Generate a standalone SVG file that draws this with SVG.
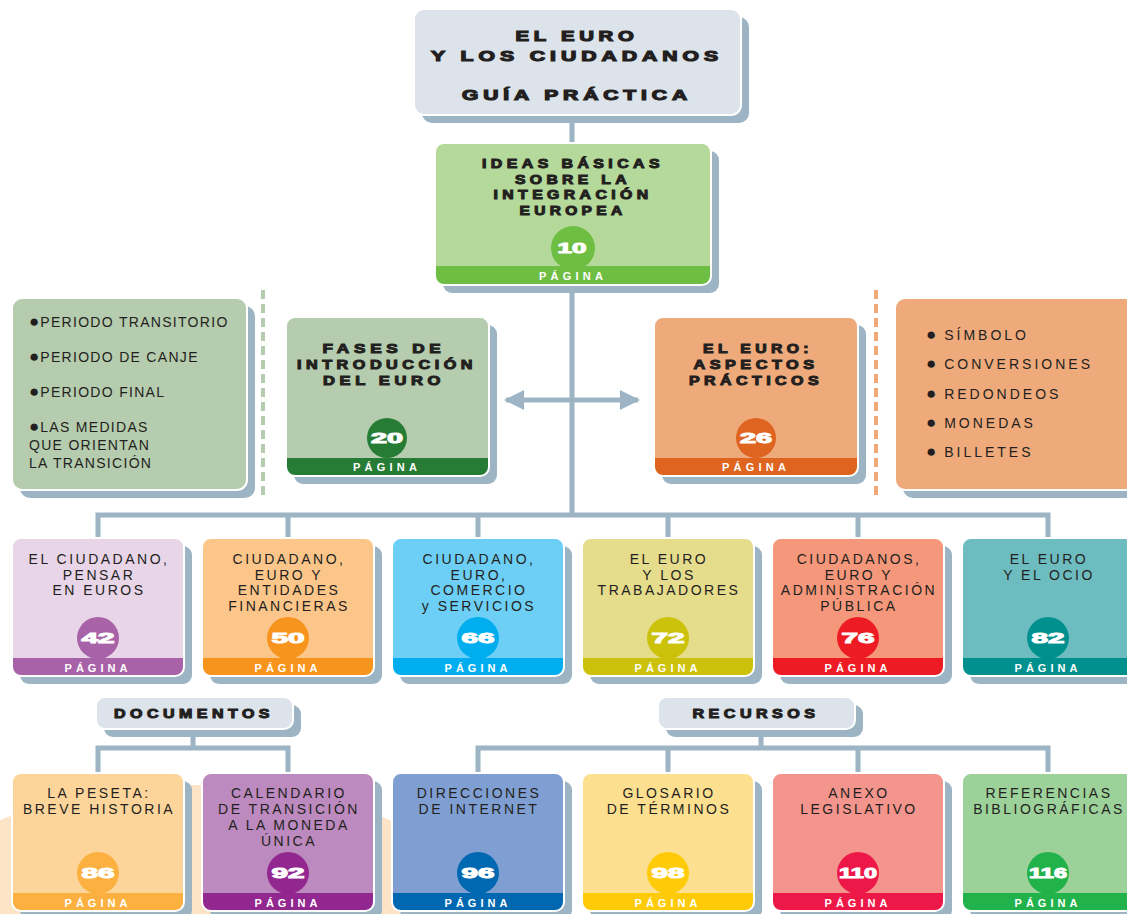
<svg xmlns="http://www.w3.org/2000/svg" width="1127" height="914" viewBox="0 0 1127 914">
<defs>
<style>
.sh{fill:#9cb4c3}
.bd{fill:none;stroke:#fff;stroke-width:2}
.conn{stroke:#9cb4c3;stroke-width:5;fill:none}
.hd{font-family:"Liberation Sans",Arial,sans-serif;font-weight:bold;font-size:12.5px;letter-spacing:3.5px;fill:#231f20;stroke:#231f20;stroke-width:1;text-anchor:middle}
.tt{font-family:"Liberation Sans",Arial,sans-serif;font-weight:bold;font-size:15px;letter-spacing:3.5px;fill:#231f20;stroke:#231f20;stroke-width:1.2;text-anchor:middle}
.tx{font-family:"Liberation Sans",Arial,sans-serif;font-size:14px;fill:#231f20;letter-spacing:2.5px;text-anchor:middle}
.ls{font-family:"Liberation Sans",Arial,sans-serif;font-size:14px;fill:#231f20;letter-spacing:1.3px}
.rs{font-family:"Liberation Sans",Arial,sans-serif;font-size:14px;fill:#231f20;letter-spacing:3px}
.bl{font-size:17px;letter-spacing:1px}
.pg{font-family:"Liberation Sans",Arial,sans-serif;font-weight:bold;font-size:11px;fill:#fff;text-anchor:middle}
.num{font-family:"Liberation Sans",Arial,sans-serif;font-weight:bold;font-size:15px;fill:#fff;stroke:#fff;stroke-width:1;text-anchor:middle}
</style>
<marker id="ah" viewBox="0 0 10 10" refX="9" refY="5" markerWidth="4" markerHeight="4" orient="auto-start-reverse" markerUnits="strokeWidth">
<path d="M0,0 L10,5 L0,10 Z" fill="#9cb4c3"/>
</marker>
</defs>
<rect x="0" y="0" width="1127" height="914" fill="#fff"/>
<ellipse cx="195" cy="910" rx="280" ry="125" fill="#fde4c6"/>

<g id="connectors">
<path class="conn" d="M572,115 V515"/>
<path class="conn" d="M98,538 V515 H1048 V538"/>
<path class="conn" d="M288,515 V538 M478,515 V538 M668,515 V538 M858,515 V538"/>
<path class="conn" d="M193,729 V748 M98,773 V748 H288 V773"/>
<path class="conn" d="M761,729 V748 M478,773 V748 H1048 V773 M668,748 V773 M858,748 V773"/>
<path class="conn" d="M506,400 H638" marker-start="url(#ah)" marker-end="url(#ah)"/>
<path d="M263,290 V495" stroke="#b6ccae" stroke-width="4" stroke-dasharray="9 5" fill="none"/>
<path d="M876,290 V495" stroke="#f0a878" stroke-width="4" stroke-dasharray="9 5" fill="none"/>
</g>

<g id="title">
<rect class="sh" x="422" y="17" width="327" height="106" rx="10"/>
<rect x="414" y="9" width="327" height="106" rx="10" fill="#dce3ea"/>
<rect class="bd" x="414" y="9" width="327" height="106" rx="10"/>
<text class="tt" x="577" y="41" textLength="123" lengthAdjust="spacingAndGlyphs">EL EURO</text>
<text class="tt" x="577" y="61" textLength="292" lengthAdjust="spacingAndGlyphs">Y LOS CIUDADANOS</text>
<text class="tt" x="577" y="100" textLength="230" lengthAdjust="spacingAndGlyphs">GUÍA PRÁCTICA</text>
</g>

<g id="ideas">
<rect class="sh" x="443" y="151" width="276" height="142" rx="9"/>
<rect x="435" y="143" width="276" height="142" rx="9" fill="#6fbe44"/>
<path d="M435,266 V152 Q435,143 444,143 H702 Q711,143 711,152 V266 Z" fill="#b5d99a"/>
<circle cx="573" cy="248" r="22" fill="#6fbe44"/>
<rect class="bd" x="435" y="143" width="276" height="142" rx="9"/>
<text class="hd" x="573" y="168" textLength="182" lengthAdjust="spacingAndGlyphs">IDEAS BÁSICAS</text>
<text class="hd" x="573" y="183.5" textLength="116" lengthAdjust="spacingAndGlyphs">SOBRE LA</text>
<text class="hd" x="573" y="199" textLength="159" lengthAdjust="spacingAndGlyphs">INTEGRACIÓN</text>
<text class="hd" x="573" y="214.5" textLength="107" lengthAdjust="spacingAndGlyphs">EUROPEA</text>
<text class="num" x="572" y="253" textLength="29" lengthAdjust="spacingAndGlyphs">10</text>
<text class="pg" x="571" y="280" textLength="64">PÁGINA</text>
</g>

<g id="fases-list">
<rect class="sh" x="20" y="306" width="235" height="192" rx="10"/>
<rect x="12" y="298" width="235" height="192" rx="10" fill="#b6ccae"/>
<rect class="bd" x="12" y="298" width="235" height="192" rx="10"/>
<text class="ls" x="29" y="327"><tspan class="bl">●</tspan>PERIODO TRANSITORIO</text>
<text class="ls" x="29" y="362"><tspan class="bl">●</tspan>PERIODO DE CANJE</text>
<text class="ls" x="29" y="397"><tspan class="bl">●</tspan>PERIODO FINAL</text>
<text class="ls" x="29" y="432"><tspan class="bl">●</tspan>LAS MEDIDAS</text>
<text class="ls" x="29" y="450">QUE ORIENTAN</text>
<text class="ls" x="29" y="468">LA TRANSICIÓN</text>
</g>

<g id="fases">
<rect class="sh" x="294" y="325" width="203" height="159" rx="9"/>
<rect x="286" y="317" width="203" height="159" rx="9" fill="#267c35"/>
<path d="M286,458 V326 Q286,317 295,317 H480 Q489,317 489,326 V458 Z" fill="#b6ccae"/>
<circle cx="387" cy="438" r="20" fill="#267c35"/>
<rect class="bd" x="286" y="317" width="203" height="159" rx="9"/>
<text class="hd" x="384" y="353" textLength="123" lengthAdjust="spacingAndGlyphs">FASES DE</text>
<text class="hd" x="387" y="369" textLength="180" lengthAdjust="spacingAndGlyphs">INTRODUCCIÓN</text>
<text class="hd" x="384" y="385" textLength="122" lengthAdjust="spacingAndGlyphs">DEL EURO</text>
<text class="num" x="387" y="443" textLength="32" lengthAdjust="spacingAndGlyphs">20</text>
<text class="pg" x="385" y="471" textLength="64">PÁGINA</text>
</g>

<g id="aspectos">
<rect class="sh" x="662" y="325" width="204" height="159" rx="9"/>
<rect x="654" y="317" width="204" height="159" rx="9" fill="#de6420"/>
<path d="M654,458 V326 Q654,317 663,317 H849 Q858,317 858,326 V458 Z" fill="#eeaa7b"/>
<circle cx="756" cy="438" r="20" fill="#de6420"/>
<rect class="bd" x="654" y="317" width="204" height="159" rx="9"/>
<text class="hd" x="758" y="353" textLength="110" lengthAdjust="spacingAndGlyphs">EL EURO:</text>
<text class="hd" x="756" y="369" textLength="125" lengthAdjust="spacingAndGlyphs">ASPECTOS</text>
<text class="hd" x="756" y="385" textLength="134" lengthAdjust="spacingAndGlyphs">PRÁCTICOS</text>
<text class="num" x="756" y="443" textLength="32" lengthAdjust="spacingAndGlyphs">26</text>
<text class="pg" x="754" y="471" textLength="64">PÁGINA</text>
</g>

<g id="aspectos-list">
<rect class="sh" x="903" y="306" width="250" height="192" rx="10"/>
<rect x="895" y="298" width="250" height="192" rx="10" fill="#eeaa7b"/>
<rect class="bd" x="895" y="298" width="250" height="192" rx="10"/>
<text class="rs" x="926" y="340"><tspan class="bl">●</tspan> SÍMBOLO</text>
<text class="rs" x="926" y="369"><tspan class="bl">●</tspan> CONVERSIONES</text>
<text class="rs" x="926" y="399"><tspan class="bl">●</tspan> REDONDEOS</text>
<text class="rs" x="926" y="428"><tspan class="bl">●</tspan> MONEDAS</text>
<text class="rs" x="926" y="457"><tspan class="bl">●</tspan> BILLETES</text>
</g>

<!-- Row 1 -->
<g id="p42">
<rect class="sh" x="20" y="546" width="172" height="138" rx="9"/>
<rect x="12" y="538" width="172" height="138" rx="9" fill="#a862a8"/>
<path d="M12,658 V547 Q12,538 21,538 H175 Q184,538 184,547 V658 Z" fill="#e8d5e8"/>
<circle cx="98" cy="638" r="21" fill="#a862a8"/>
<rect class="bd" x="12" y="538" width="172" height="138" rx="9"/>
<text class="tx" x="99" y="564">EL CIUDADANO,</text>
<text class="tx" x="99" y="579.5">PENSAR</text>
<text class="tx" x="99" y="595">EN EUROS</text>
<text class="num" x="98" y="643" textLength="33" lengthAdjust="spacingAndGlyphs">42</text>
<text class="pg" x="96" y="672" textLength="63">PÁGINA</text>
</g>

<g id="p50">
<rect class="sh" x="210" y="546" width="172" height="138" rx="9"/>
<rect x="202" y="538" width="172" height="138" rx="9" fill="#f7941d"/>
<path d="M202,658 V547 Q202,538 211,538 H365 Q374,538 374,547 V658 Z" fill="#fcc68a"/>
<circle cx="288" cy="638" r="21" fill="#f7941d"/>
<rect class="bd" x="202" y="538" width="172" height="138" rx="9"/>
<text class="tx" x="289" y="564">CIUDADANO,</text>
<text class="tx" x="289" y="579.5">EURO Y</text>
<text class="tx" x="289" y="595">ENTIDADES</text>
<text class="tx" x="289" y="610.5">FINANCIERAS</text>
<text class="num" x="288" y="643" textLength="33" lengthAdjust="spacingAndGlyphs">50</text>
<text class="pg" x="286" y="672" textLength="63">PÁGINA</text>
</g>

<g id="p66">
<rect class="sh" x="400" y="546" width="172" height="138" rx="9"/>
<rect x="392" y="538" width="172" height="138" rx="9" fill="#00aeef"/>
<path d="M392,658 V547 Q392,538 401,538 H555 Q564,538 564,547 V658 Z" fill="#6dcff6"/>
<circle cx="478" cy="638" r="21" fill="#00aeef"/>
<rect class="bd" x="392" y="538" width="172" height="138" rx="9"/>
<text class="tx" x="479" y="564">CIUDADANO,</text>
<text class="tx" x="479" y="579.5">EURO,</text>
<text class="tx" x="479" y="595">COMERCIO</text>
<text class="tx" x="479" y="610.5">y SERVICIOS</text>
<text class="num" x="478" y="643" textLength="33" lengthAdjust="spacingAndGlyphs">66</text>
<text class="pg" x="476" y="672" textLength="63">PÁGINA</text>
</g>

<g id="p72">
<rect class="sh" x="590" y="546" width="172" height="138" rx="9"/>
<rect x="582" y="538" width="172" height="138" rx="9" fill="#ccc10b"/>
<path d="M582,658 V547 Q582,538 591,538 H745 Q754,538 754,547 V658 Z" fill="#e5dc8c"/>
<circle cx="668" cy="638" r="21" fill="#ccc10b"/>
<rect class="bd" x="582" y="538" width="172" height="138" rx="9"/>
<text class="tx" x="669" y="564">EL EURO</text>
<text class="tx" x="669" y="579.5">Y LOS</text>
<text class="tx" x="669" y="595">TRABAJADORES</text>
<text class="num" x="668" y="643" textLength="33" lengthAdjust="spacingAndGlyphs">72</text>
<text class="pg" x="666" y="672" textLength="63">PÁGINA</text>
</g>

<g id="p76">
<rect class="sh" x="780" y="546" width="172" height="138" rx="9"/>
<rect x="772" y="538" width="172" height="138" rx="9" fill="#ed1c24"/>
<path d="M772,658 V547 Q772,538 781,538 H935 Q944,538 944,547 V658 Z" fill="#f5977a"/>
<circle cx="858" cy="638" r="21" fill="#ed1c24"/>
<rect class="bd" x="772" y="538" width="172" height="138" rx="9"/>
<text class="tx" x="859" y="564">CIUDADANOS,</text>
<text class="tx" x="859" y="579.5">EURO Y</text>
<text class="tx" x="859" y="595">ADMINISTRACIÓN</text>
<text class="tx" x="859" y="610.5">PÚBLICA</text>
<text class="num" x="858" y="643" textLength="33" lengthAdjust="spacingAndGlyphs">76</text>
<text class="pg" x="856" y="672" textLength="63">PÁGINA</text>
</g>

<g id="p82">
<rect class="sh" x="970" y="546" width="172" height="138" rx="9"/>
<rect x="962" y="538" width="172" height="138" rx="9" fill="#00918e"/>
<path d="M962,658 V547 Q962,538 971,538 H1125 Q1134,538 1134,547 V658 Z" fill="#6dbcc0"/>
<circle cx="1048" cy="638" r="21" fill="#00918e"/>
<rect class="bd" x="962" y="538" width="172" height="138" rx="9"/>
<text class="tx" x="1049" y="564">EL EURO</text>
<text class="tx" x="1049" y="579.5">Y EL OCIO</text>
<text class="num" x="1048" y="643" textLength="33" lengthAdjust="spacingAndGlyphs">82</text>
<text class="pg" x="1046" y="672" textLength="63">PÁGINA</text>
</g>

<g id="documentos">
<rect class="sh" x="104" y="705" width="197" height="32" rx="9"/>
<rect x="96" y="697" width="197" height="32" rx="9" fill="#dce3ea"/>
<rect class="bd" x="96" y="697" width="197" height="32" rx="9"/>
<text class="hd" x="194" y="718" textLength="160" lengthAdjust="spacingAndGlyphs">DOCUMENTOS</text>
</g>

<g id="recursos">
<rect class="sh" x="666" y="705" width="197" height="32" rx="9"/>
<rect x="658" y="697" width="197" height="32" rx="9" fill="#dce3ea"/>
<rect class="bd" x="658" y="697" width="197" height="32" rx="9"/>
<text class="hd" x="756" y="718" textLength="127" lengthAdjust="spacingAndGlyphs">RECURSOS</text>
</g>

<!-- Row 2 -->
<g id="p86">
<rect class="sh" x="20" y="781" width="172" height="138" rx="9"/>
<rect x="12" y="773" width="172" height="138" rx="9" fill="#fbb040"/>
<path d="M12,893 V782 Q12,773 21,773 H175 Q184,773 184,782 V893 Z" fill="#fdd59b"/>
<circle cx="98" cy="873" r="21" fill="#fbb040"/>
<rect class="bd" x="12" y="773" width="172" height="138" rx="9"/>
<text class="tx" x="99" y="798">LA PESETA:</text>
<text class="tx" x="99" y="814">BREVE HISTORIA</text>
<text class="num" x="98" y="878" textLength="33" lengthAdjust="spacingAndGlyphs">86</text>
<text class="pg" x="96" y="907" textLength="63">PÁGINA</text>
</g>

<g id="p92">
<rect class="sh" x="210" y="781" width="172" height="138" rx="9"/>
<rect x="202" y="773" width="172" height="138" rx="9" fill="#92278f"/>
<path d="M202,893 V782 Q202,773 211,773 H365 Q374,773 374,782 V893 Z" fill="#bc8abf"/>
<circle cx="288" cy="873" r="21" fill="#92278f"/>
<rect class="bd" x="202" y="773" width="172" height="138" rx="9"/>
<text class="tx" x="289" y="798">CALENDARIO</text>
<text class="tx" x="289" y="814">DE TRANSICIÓN</text>
<text class="tx" x="289" y="830">A LA MONEDA</text>
<text class="tx" x="289" y="846">ÚNICA</text>
<text class="num" x="288" y="878" textLength="33" lengthAdjust="spacingAndGlyphs">92</text>
<text class="pg" x="286" y="907" textLength="63">PÁGINA</text>
</g>

<g id="p96">
<rect class="sh" x="400" y="781" width="172" height="138" rx="9"/>
<rect x="392" y="773" width="172" height="138" rx="9" fill="#0067b1"/>
<path d="M392,893 V782 Q392,773 401,773 H555 Q564,773 564,782 V893 Z" fill="#7f9fd3"/>
<circle cx="478" cy="873" r="21" fill="#0067b1"/>
<rect class="bd" x="392" y="773" width="172" height="138" rx="9"/>
<text class="tx" x="479" y="798">DIRECCIONES</text>
<text class="tx" x="479" y="814">DE INTERNET</text>
<text class="num" x="478" y="878" textLength="33" lengthAdjust="spacingAndGlyphs">96</text>
<text class="pg" x="476" y="907" textLength="63">PÁGINA</text>
</g>

<g id="p98">
<rect class="sh" x="590" y="781" width="172" height="138" rx="9"/>
<rect x="582" y="773" width="172" height="138" rx="9" fill="#ffcb08"/>
<path d="M582,893 V782 Q582,773 591,773 H745 Q754,773 754,782 V893 Z" fill="#fde08f"/>
<circle cx="668" cy="873" r="21" fill="#ffcb08"/>
<rect class="bd" x="582" y="773" width="172" height="138" rx="9"/>
<text class="tx" x="669" y="798">GLOSARIO</text>
<text class="tx" x="669" y="814">DE TÉRMINOS</text>
<text class="num" x="668" y="878" textLength="33" lengthAdjust="spacingAndGlyphs">98</text>
<text class="pg" x="666" y="907" textLength="63">PÁGINA</text>
</g>

<g id="p110">
<rect class="sh" x="780" y="781" width="172" height="138" rx="9"/>
<rect x="772" y="773" width="172" height="138" rx="9" fill="#ed1848"/>
<path d="M772,893 V782 Q772,773 781,773 H935 Q944,773 944,782 V893 Z" fill="#f3958c"/>
<circle cx="858" cy="873" r="21" fill="#ed1848"/>
<rect class="bd" x="772" y="773" width="172" height="138" rx="9"/>
<text class="tx" x="859" y="798">ANEXO</text>
<text class="tx" x="859" y="814">LEGISLATIVO</text>
<text class="num" x="858" y="878" textLength="38" lengthAdjust="spacingAndGlyphs">110</text>
<text class="pg" x="856" y="907" textLength="63">PÁGINA</text>
</g>

<g id="p116">
<rect class="sh" x="970" y="781" width="172" height="138" rx="9"/>
<rect x="962" y="773" width="172" height="138" rx="9" fill="#22b24c"/>
<path d="M962,893 V782 Q962,773 971,773 H1125 Q1134,773 1134,782 V893 Z" fill="#9dd19a"/>
<circle cx="1048" cy="873" r="21" fill="#22b24c"/>
<rect class="bd" x="962" y="773" width="172" height="138" rx="9"/>
<text class="tx" x="1049" y="798">REFERENCIAS</text>
<text class="tx" x="1049" y="814">BIBLIOGRÁFICAS</text>
<text class="num" x="1048" y="878" textLength="38" lengthAdjust="spacingAndGlyphs">116</text>
<text class="pg" x="1046" y="907" textLength="63">PÁGINA</text>
</g>
</svg>
